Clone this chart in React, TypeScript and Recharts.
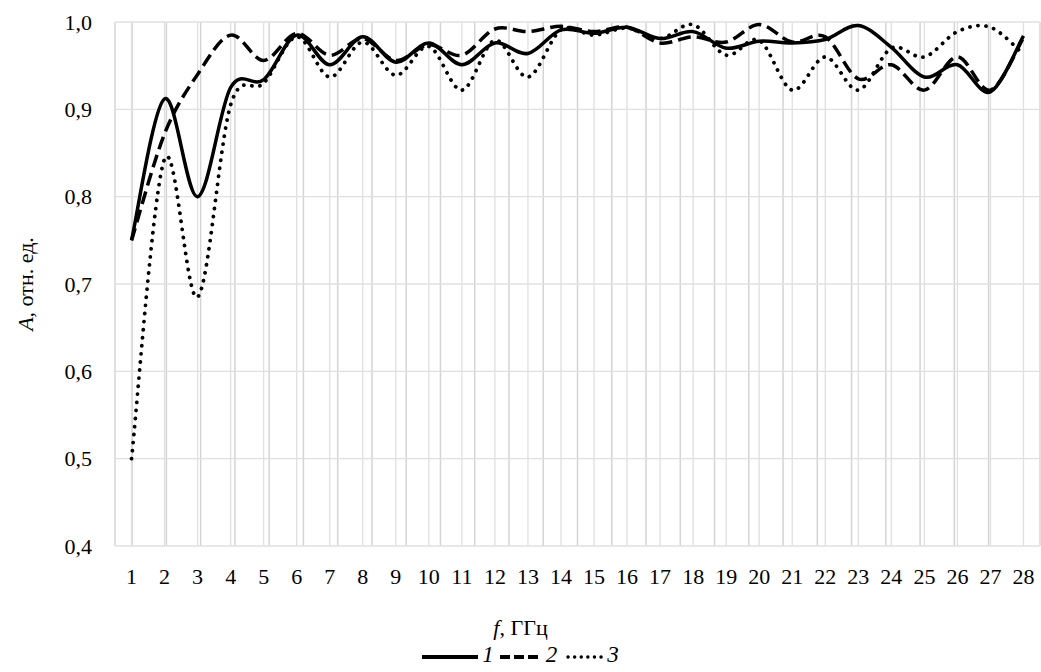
import { LineChart, Line, XAxis, YAxis, CartesianGrid } from 'recharts'

const freqs = [1, 2, 3, 4, 5, 6, 7, 8, 9, 10, 11, 12, 13, 14, 15, 16, 17, 18, 19, 20, 21, 22, 23, 24, 25, 26, 27, 28]

const series1 = [0.75, 0.912, 0.8, 0.925, 0.934, 0.985, 0.951, 0.983, 0.954, 0.976, 0.951, 0.976, 0.964, 0.991, 0.987, 0.994, 0.981, 0.989, 0.97, 0.978, 0.976, 0.98, 0.996, 0.971, 0.937, 0.951, 0.92, 0.984]
const series2 = [0.75, 0.872, 0.94, 0.985, 0.956, 0.987, 0.962, 0.981, 0.956, 0.974, 0.962, 0.992, 0.989, 0.995, 0.989, 0.994, 0.976, 0.983, 0.977, 0.997, 0.977, 0.983, 0.935, 0.951, 0.922, 0.96, 0.922, 0.982]
const series3 = [0.5, 0.843, 0.685, 0.905, 0.93, 0.983, 0.937, 0.977, 0.939, 0.972, 0.922, 0.979, 0.937, 0.991, 0.985, 0.993, 0.981, 0.997, 0.962, 0.979, 0.922, 0.96, 0.922, 0.97, 0.96, 0.989, 0.994, 0.963]

const yTicks = [0.4, 0.5, 0.6, 0.7, 0.8, 0.9, 1.0]
const cellEdges = [0.5, 1.5, 2.5, 3.5, 4.5, 5.5, 6.5, 7.5, 8.5, 9.5, 10.5, 11.5, 12.5, 13.5, 14.5, 15.5, 16.5, 17.5, 18.5, 19.5, 20.5, 21.5, 22.5, 23.5, 24.5, 25.5, 26.5, 27.5, 28.5]

const data = freqs.map((f, i) => ({ f, s1: series1[i], s2: series2[i], s3: series3[i] }))

const FONT = '"Liberation Serif", "DejaVu Serif", serif'
const FS = 22

// Excel-style smoothing (cardinal/Catmull-Rom bezier through every point)
const excelCurve = (context: any) => {
  let pts: number[][] = []
  return {
    areaStart() {},
    areaEnd() {},
    lineStart() { pts = [] },
    point(x: number, y: number) { pts.push([+x, +y]) },
    lineEnd() {
      if (!pts.length) return
      context.moveTo(pts[0][0], pts[0][1])
      for (let i = 0; i < pts.length - 1; i++) {
        const p0 = pts[i - 1] || pts[i]
        const p1 = pts[i]
        const p2 = pts[i + 1]
        const p3 = pts[i + 2] || p2
        context.bezierCurveTo(
          p1[0] + (p2[0] - p0[0]) / 6, p1[1] + (p2[1] - p0[1]) / 6,
          p2[0] - (p3[0] - p1[0]) / 6, p2[1] - (p3[1] - p1[1]) / 6,
          p2[0], p2[1],
        )
      }
    },
  }
}

const YLabel = () => (
  <text
    transform="translate(33, 284) rotate(-90)"
    textAnchor="middle"
    fontFamily={FONT}
    fontSize={FS}
    fill="#000"
  >
    <tspan fontStyle="italic">A</tspan>, отн. ед.
  </text>
)

const Sample = ({ dash, width = 56 }: { dash?: string; width?: number }) => (
  <svg width={width} height={12} style={{ verticalAlign: 'middle', marginRight: 2 }}>
    <line
      x1={dash === 'dot' ? 3 : 0} y1={6} x2={width - 2} y2={6}
      stroke="#000"
      strokeWidth={dash === 'dot' ? 3.4 : 4}
      strokeDasharray={dash === 'dash' ? '10 4' : dash === 'dot' ? '0.1 6.5' : undefined}
      strokeLinecap={dash === 'dot' ? 'round' : 'butt'}
    />
  </svg>
)

export default function App() {
  return (
    <div style={{ position: 'absolute', left: 0, top: 0, width: 1041, height: 672, background: '#fff', fontFamily: FONT }}>
      <LineChart width={1041} height={672} data={data} margin={{ top: 22, right: 1, bottom: 86, left: 0 }}>
        <CartesianGrid xAxisId="edge" horizontal={false} stroke="#d4d4d4" strokeWidth={1.5} />
        <CartesianGrid stroke="#e0e0e0" strokeWidth={1.3} />
        <XAxis
          dataKey="f"
          type="number"
          domain={[0.5, 28.5]}
          ticks={freqs}
          interval={0}
          height={40}
          axisLine={false}
          tickLine={false}
          tickSize={0}
          tickMargin={22}
          tick={{ fill: '#000', fontSize: FS, fontFamily: FONT }}
        />
        <XAxis xAxisId="edge" type="number" domain={[0.5, 28.5]} ticks={cellEdges} hide />
        <YAxis
          domain={[0.4, 1.0]}
          ticks={yTicks}
          width={115}
          axisLine={false}
          tickLine={false}
          tickSize={0}
          tickMargin={23}
          tickFormatter={(v: number) => v.toFixed(1).replace('.', ',')}
          tick={{ fill: '#000', fontSize: FS, fontFamily: FONT }}
          label={<YLabel />}
        />
        <Line dataKey="s3" type={excelCurve as any} stroke="#000" strokeWidth={3.8} strokeDasharray="0.1 8" strokeLinecap="round" dot={false} activeDot={false} isAnimationActive={false} />
        <Line dataKey="s2" type={excelCurve as any} stroke="#000" strokeWidth={3.5} strokeDasharray="13 6" dot={false} activeDot={false} isAnimationActive={false} />
        <Line dataKey="s1" type={excelCurve as any} stroke="#000" strokeWidth={3.5} dot={false} activeDot={false} isAnimationActive={false} />
      </LineChart>
      <div style={{ position: 'absolute', left: 0, top: 615, width: 1041, textAlign: 'center', fontSize: FS, color: '#000' }}>
        <i>f</i>, ГГц
      </div>
      <div style={{ position: 'absolute', left: 0, top: 642, width: 1041, textAlign: 'center', fontSize: FS + 1, color: '#000', whiteSpace: 'nowrap' }}>
        <Sample width={58} /><i>1</i>
        <span style={{ marginLeft: 6 }} /><Sample dash="dash" width={44} /><i>2</i>
        <span style={{ marginLeft: 8 }} /><Sample dash="dot" width={40} /><i>3</i>
      </div>
    </div>
  )
}
